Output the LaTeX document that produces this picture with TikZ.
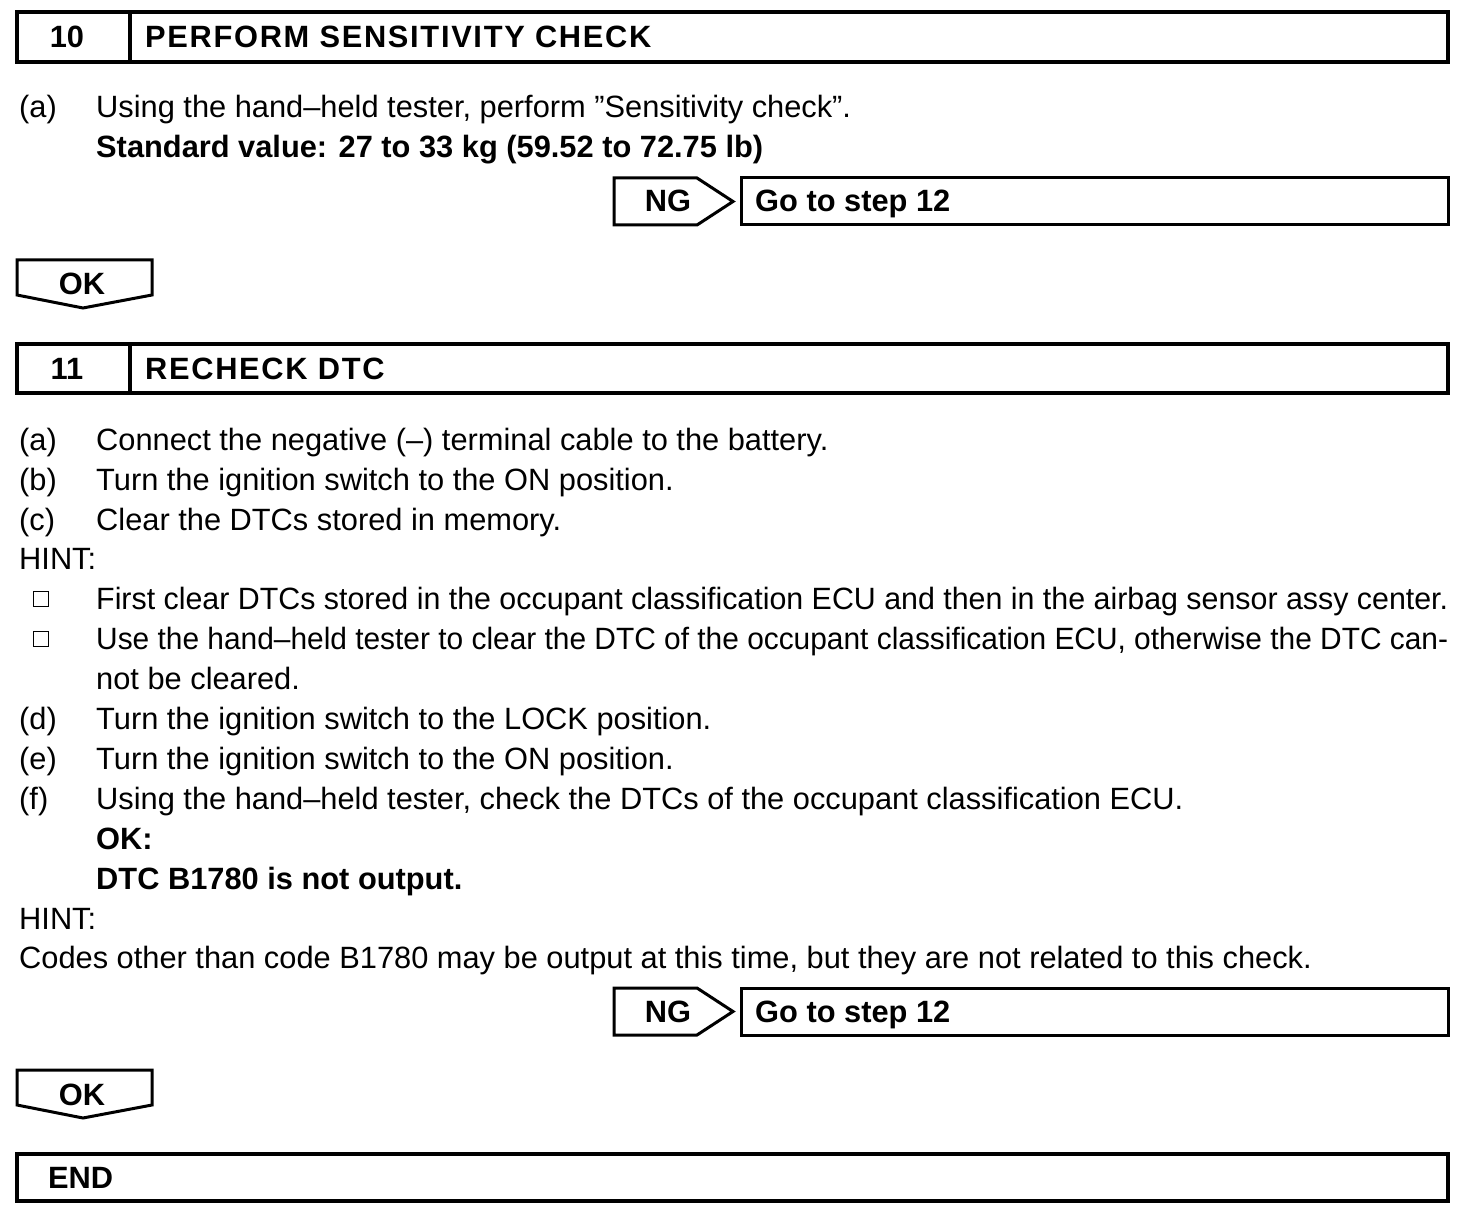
\documentclass[tikz,border=0pt]{standalone}
\usepackage{fontspec}
\usepackage{graphicx}
\setmainfont{Liberation Sans}
\begin{document}
\begin{tikzpicture}[x=1pt,y=-1pt,
  txt/.style={anchor=base west,inner sep=0pt,font=\fontsize{30.8}{36}\selectfont},
  btxt/.style={txt,font=\fontsize{30.8}{36}\selectfont\bfseries},
  htxt/.style={txt,font=\fontsize{30.8}{36}\selectfont\bfseries\addfontfeature{LetterSpace=5.5}},
  bigbox/.style={draw=black,line width=4pt},
  smallbox/.style={draw=black,line width=3pt,line join=miter},
  chk/.style={draw=black,line width=1pt}]
\useasboundingbox (0,0) rectangle (1472,1214);
% Step 10 header
\draw[bigbox] (17,12) rectangle (1448,62);
\draw[bigbox] (130,12) -- (130,62);
\node[btxt,anchor=base] (n10) at (67,48) {10};
\node[htxt] (t10) at (145,48) {PERFORM SENSITIVITY CHECK};
\node[txt] (a1l) at (19,118) {(a)};
\node[txt] (a1) at (96,118) {Using the hand–held tester, perform ”Sensitivity check”.};
\node[btxt] (sv) at (96,158) {Standard value: 27 to 33 kg (59.52 to 72.75 lb)};
% NG 1
\draw[smallbox] (614,178) -- (697,178) -- (733,201.5) -- (697,225) -- (614,225) -- cycle;
\node[btxt,anchor=base] (ng1) at (668,212) {NG};
\draw[smallbox] (741,178) rectangle (1448,225);
\node[btxt] (go1) at (755,212) {Go to step 12};
% OK 1
\draw[smallbox] (17,260) -- (152,260) -- (152,295) -- (83,308) -- (17,295) -- cycle;
\node[btxt,anchor=base] (ok1) at (82,295) {OK};
% Step 11 header
\draw[bigbox] (17,344) rectangle (1448,393);
\draw[bigbox] (130,344) -- (130,393);
\node[btxt,anchor=base] (n11) at (67,380) {11};
\node[htxt] (t11) at (145,380) {RECHECK DTC};
\node[txt] (b1l) at (19,450) {(a)};
\node[txt] (b1) at (96,450) {Connect the negative (–) terminal cable to the battery.};
\node[txt] (b2l) at (19,490) {(b)};
\node[txt] (b2) at (96,490) {Turn the ignition switch to the ON position.};
\node[txt] (b3l) at (19,530) {(c)};
\node[txt] (b3) at (96,530) {Clear the DTCs stored in memory.};
\node[txt] (h1) at (19,569) {HINT:};
\draw[chk] (33,591.5) rectangle (48,606) coordinate (c1);
\node[txt] (b4) at (96,609) {\resizebox{1352pt}{\height}{First clear DTCs stored in the occupant classification ECU and then in the airbag sensor assy center.}};
\draw[chk] (33,631.5) rectangle (48,646) coordinate (c2);
\node[txt] (b5) at (96,649) {\resizebox{1352pt}{\height}{Use the hand–held tester to clear the DTC of the occupant classification ECU, otherwise the DTC can-}};
\node[txt] (b5b) at (96,689) {not be cleared.};
\node[txt] (b6l) at (19,729) {(d)};
\node[txt] (b6) at (96,729) {Turn the ignition switch to the LOCK position.};
\node[txt] (b7l) at (19,769) {(e)};
\node[txt] (b7) at (96,769) {Turn the ignition switch to the ON position.};
\node[txt] (b8l) at (19,809) {(f)};
\node[txt] (b8) at (96,809) {Using the hand–held tester, check the DTCs of the occupant classification ECU.};
\node[btxt] (okl) at (96,849) {OK:};
\node[btxt] (dtc) at (96,889) {DTC B1780 is not output.};
\node[txt] (h2) at (19,929) {HINT:};
\node[txt] (codes) at (19,968) {Codes other than code B1780 may be output at this time, but they are not related to this check.};
% NG 2
\draw[smallbox] (614,988) -- (697,988) -- (733,1011.5) -- (697,1035) -- (614,1035) -- cycle;
\node[btxt,anchor=base] (ng2) at (668,1022) {NG};
\draw[smallbox] (741,988) rectangle (1448,1035);
\node[btxt] (go2) at (755,1022) {Go to step 12};
% OK 2
\draw[smallbox] (17,1070) -- (152,1070) -- (152,1105) -- (83,1118) -- (17,1105) -- cycle;
\node[btxt,anchor=base] (ok2) at (82,1105) {OK};
% END
\draw[bigbox] (17,1154) rectangle (1448,1201);
\node[btxt] (endt) at (48,1188) {END};
\end{tikzpicture}
\end{document}
